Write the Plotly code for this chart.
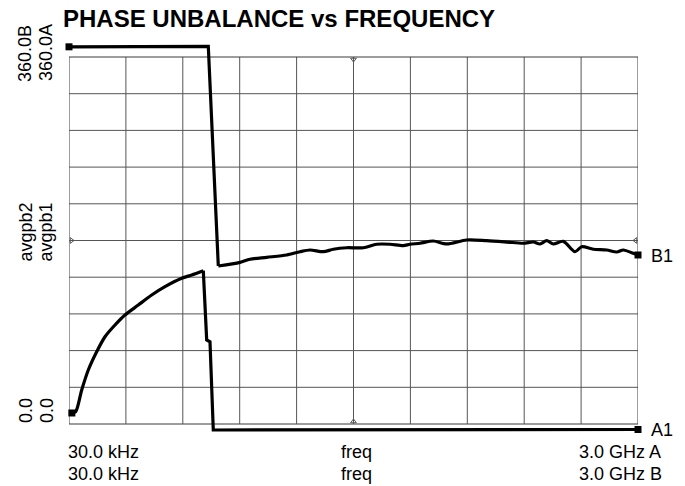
import plotly.graph_objects as go

# ---- data (frequency in MHz, phase in degrees) ----
freq_b = [0.03, 734.4, 787.2, 901.6, 954.3, 1042.4, 1147.8, 1217.9, 1270.6, 1340.8,
          1393.5, 1464.1, 1551.7, 1622.3, 1692.4, 1762.6, 1797.9, 1850.6, 1920.7,
          1991.4, 2096.8, 2202.3, 2307.7, 2395.3, 2448.0, 2483.3, 2518.6, 2553.4,
          2606.2, 2667.8, 2703.2, 2764.3, 2835.0, 2887.7, 2922.5, 2975.2, 3000.0]
phase_b = [370.0, 370.5, 155.0, 158.6, 161.6, 163.5, 165.8, 169.0, 170.7, 169.0,
           171.4, 172.9, 172.9, 176.3, 176.3, 174.9, 176.3, 177.3, 179.5,
           176.6, 180.5, 179.8, 178.5, 177.3, 178.5, 176.6, 179.8, 176.6,
           179.2, 169.0, 173.9, 171.4, 170.7, 168.7, 170.7, 167.4, 165.8]
b_smooth_from = 2          # index where the smooth (ripple) part of trace B starts

freq_a = [15.0, 35.3, 67.0, 101.8, 146.0, 189.8, 242.5, 295.3, 365.4, 436.0,
          506.2, 594.2, 646.9, 708.1, 726.0, 743.4, 760.8, 3000.0]
phase_a = [10.8, 12.1, 33.4, 53.0, 70.9, 85.6, 97.1, 106.9, 116.7, 126.5,
           134.7, 142.9, 146.2, 150.4, 82.4, 80.7, -5.9, -5.4]
a_smooth_to = 13           # index where the smooth part of trace A ends

x_range = [0.03, 3000.0]
y_range = [0.0, 360.0]
divisions = 10

title = "PHASE UNBALANCE vs FREQUENCY"
left_top = ["360.0B", "360.0A"]
left_mid = ["avgpb2", "avgpb1"]
left_bot = ["0.0", "0.0"]
bottom_left = ["30.0 kHz", "30.0 kHz"]
bottom_mid = ["freq", "freq"]
bottom_right = ["3.0 GHz A", "3.0 GHz B"]
end_labels = ["B1", "A1"]

# ---- layout geometry (pixels) ----
W, H = 685, 486
GL, GR, GT, GB = 69, 638, 57, 424        # graticule box
PT, PB = 36, 444                          # plot-area top/bottom (room for off-scale traces)
FONT = "Liberation Sans, Arial, sans-serif"

deg_per_px = (y_range[1] - y_range[0]) / (GB - GT)
y_axis_range = [y_range[0] - (PB - GB) * deg_per_px, y_range[1] + (GT - PT) * deg_per_px]


def pxx(x):
    return (x - GL) / (GR - GL)


def pyy(y):
    return (PB - y) / (PB - PT)


fig = go.Figure()

# graticule
dx = (x_range[1] - x_range[0]) / divisions
dy = (y_range[1] - y_range[0]) / divisions
shapes = []
for k in range(divisions + 1):
    xv = x_range[0] + k * dx
    yv = y_range[0] + k * dy
    edge = k in (0, divisions)
    col = "#3a3a3a" if edge else "#555"
    shapes.append(dict(type="line", xref="x", yref="y", x0=xv, x1=xv, y0=y_range[0], y1=y_range[1],
                       line=dict(color=col, width=1), layer="below"))
    shapes.append(dict(type="line", xref="x", yref="y", x0=x_range[0], x1=x_range[1], y0=yv, y1=yv,
                       line=dict(color=col, width=1), layer="below"))

# edge-centre reference marks (small half-diamonds pointing inward)
xm = (x_range[0] + x_range[1]) / 2
ym = (y_range[0] + y_range[1]) / 2
off_y = 2.5 * deg_per_px
off_x = 2.5 * dx / ((GR - GL) / divisions)
fig.add_trace(go.Scatter(
    x=[xm, xm, x_range[0] + off_x, x_range[1] - off_x],
    y=[y_range[1] - off_y, y_range[0] + off_y, ym, ym],
    mode="markers", cliponaxis=False, hoverinfo="skip",
    marker=dict(symbol=["triangle-down-open", "triangle-up-open",
                        "triangle-right-open", "triangle-left-open"],
                size=5, color="#555", line=dict(width=1, color="#555"))))


def line(xs, ys, shape):
    fig.add_trace(go.Scatter(x=xs, y=ys, mode="lines", cliponaxis=False, hoverinfo="skip",
                             line=dict(color="black", width=3.2, shape=shape, smoothing=0.8)))


# trace B: step (linear) then ripple (smooth)
line(freq_b[:b_smooth_from + 1], phase_b[:b_smooth_from + 1], "linear")
line(freq_b[b_smooth_from:], phase_b[b_smooth_from:], "spline")
# trace A: smooth rise then drop (linear)
line(freq_a[:a_smooth_to + 1], phase_a[:a_smooth_to + 1], "spline")
line(freq_a[a_smooth_to:], phase_a[a_smooth_to:], "linear")

for fx, fy in ((freq_b, phase_b), (freq_a, phase_a)):
    fig.add_trace(go.Scatter(x=[fx[0], fx[-1]], y=[fy[0], fy[-1]], mode="markers",
                             cliponaxis=False, hoverinfo="skip",
                             marker=dict(symbol="square", size=7, color="black")))

ann = []


def add(text, x, y, xa="center", ya="middle", size=18, angle=0, bold=False):
    ann.append(dict(text=f"<b>{text}</b>" if bold else text, x=pxx(x), y=pyy(y),
                    xref="paper", yref="paper", xanchor=xa, yanchor=ya,
                    textangle=angle, showarrow=False,
                    font=dict(family=FONT, size=size, color="black")))


add(title, 61, 19, xa="left", size=24, bold=True)
add(left_top[0], 25.5, 53.5, angle=-90)
add(left_top[1], 46.5, 52.5, angle=-90)
add(left_mid[0], 25.8, 231.7, angle=-90)
add(left_mid[1], 45.5, 232.0, angle=-90)
add(left_bot[0], 25.5, 410.5, angle=-90)
add(left_bot[1], 46.5, 410.5, angle=-90)
add(bottom_left[0], 66, 451.5, xa="left")
add(bottom_left[1], 66, 473.5, xa="left")
add(bottom_mid[0], 356, 451.5)
add(bottom_mid[1], 356, 473.5)
add(bottom_right[0], 577, 451.5, xa="left")
add(bottom_right[1], 577, 473.5, xa="left")
add(end_labels[0], 649, 255.5, xa="left")
add(end_labels[1], 649, 429.5, xa="left")

axis_common = dict(showline=False, showgrid=False, zeroline=False, visible=False,
                   showticklabels=False, ticks="", fixedrange=True)

fig.update_layout(
    width=W, height=H, autosize=False,
    margin=dict(l=GL, r=W - GR, t=PT, b=H - PB, pad=0),
    paper_bgcolor="white", plot_bgcolor="white",
    showlegend=False,
    xaxis=dict(range=x_range, **axis_common),
    yaxis=dict(range=y_axis_range, **axis_common),
    annotations=ann, shapes=shapes,
)

fig.write_html("out.html", config={"displayModeBar": False},
               post_script="document.body.style.margin='0px';")
